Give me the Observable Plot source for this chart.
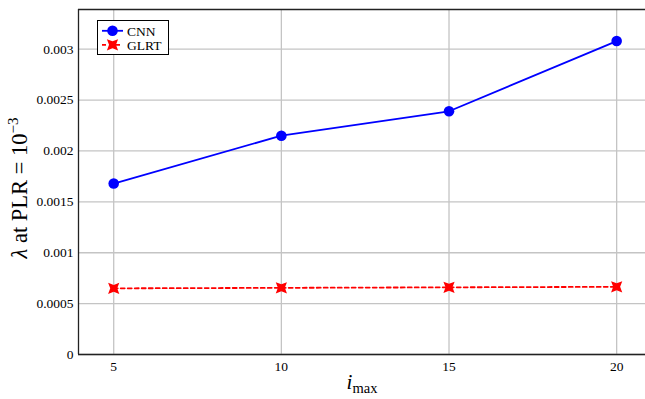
<!DOCTYPE html>
<html>
<head>
<meta charset="utf-8">
<script src="https://cdn.jsdelivr.net/npm/d3@7"></script>
<script src="https://cdn.jsdelivr.net/npm/@observablehq/plot@0.6"></script>
<style>
  html, body { margin: 0; padding: 0; background: #fff; }
  #chart svg { display: block; }
  #chart svg, #chart svg text, #chart svg tspan { font-family: "Liberation Serif", "DejaVu Serif", "Times New Roman", serif !important; }
</style>
</head>
<body>
<div id="chart"></div>
<script>
const xValues = [5, 10, 15, 20];
const cnnValues = [0.00168, 0.00215, 0.00239, 0.00308];
const glrtValues = [0.00065, 0.000655, 0.00066, 0.000665];
const xTicks = [5, 10, 15, 20];
const yTicks = [0, 0.0005, 0.001, 0.0015, 0.002, 0.0025, 0.003];
const yTickLabels = ["0", "0.0005", "0.001", "0.0015", "0.002", "0.0025", "0.003"];
const seriesNames = ["CNN", "GLRT"];

const cnn = xValues.map((x, i) => ({x, y: cnnValues[i]}));
const glrt = xValues.map((x, i) => ({x, y: glrtValues[i]}));

const xDomain = [3.95, 20.86];
const yDomain = [0, 0.00339];

// filled "X" marker (square with notched sides)
const thickX = {
  draw(context, size) {
    const h = Math.sqrt(size / Math.PI);
    const n = h * 0.38;
    context.moveTo(-h, -h);
    context.lineTo(0, -h + n);
    context.lineTo(h, -h);
    context.lineTo(h - n, 0);
    context.lineTo(h, h);
    context.lineTo(0, h - n);
    context.lineTo(-h, h);
    context.lineTo(-h + n, 0);
    context.closePath();
  }
};

const grid = {stroke: "#c4c4c4", strokeOpacity: 1, strokeWidth: 1.3};

const chart = Plot.plot({
  width: 645,
  height: 399,
  marginLeft: 78,
  marginTop: 9,
  marginBottom: 45,
  marginRight: 0,
  x: {domain: xDomain},
  y: {domain: yDomain},
  style: {fontSize: "13.5px", color: "#000", background: "#fff"},
  marks: [
    Plot.gridX(xTicks, grid),
    Plot.gridY(yTicks, grid),
    Plot.axisX(xTicks, {tickSize: 0, tickPadding: 7, label: null, fontSize: 13.5, tickFormat: d => String(d)}),
    Plot.axisY(yTicks, {tickSize: 0, tickPadding: 5, label: null, fontSize: 13.5,
      tickFormat: d => yTickLabels[yTicks.indexOf(d)]}),
    Plot.ruleY([yDomain[0]], {stroke: "#222", strokeWidth: 1.3}),
    Plot.ruleY([yDomain[1]], {stroke: "#222", strokeWidth: 1.3}),
    Plot.ruleX([xDomain[0]], {stroke: "#222", strokeWidth: 1.3}),
    Plot.line(glrt, {x: "x", y: "y", stroke: "#ff0000", strokeWidth: 1.8, strokeDasharray: "4,3"}),
    Plot.dot(glrt, {x: "x", y: "y", r: 5.6, fill: "#ff0000", stroke: "none", symbol: thickX}),
    Plot.line(cnn, {x: "x", y: "y", stroke: "#0000ff", strokeWidth: 1.8}),
    Plot.dot(cnn, {x: "x", y: "y", r: 5.3, fill: "#0000ff", stroke: "none"})
  ]
});

document.getElementById("chart").appendChild(chart);

const svg = d3.select(chart);

// Axis labels
const xl = svg.append("text")
  .attr("x", 362).attr("y", 389)
  .attr("text-anchor", "middle")
  .style("font-size", "21px").attr("fill", "#000");
xl.append("tspan").style("font-style", "italic").text("i");
xl.append("tspan").attr("dy", 4).style("font-size", "14.5px").text("max");

const yl = svg.append("text")
  .attr("transform", "translate(27,188) rotate(-90)")
  .attr("text-anchor", "middle")
  .style("font-size", "22.5px").attr("fill", "#000");
yl.append("tspan").style("font-style", "italic").text("λ");
yl.append("tspan").text(" at PLR = 10");
yl.append("tspan").attr("dy", -9).style("font-size", "15px").text("−3");

// Legend
const lg = svg.append("g");
lg.append("rect").attr("x", 97.5).attr("y", 20.5).attr("width", 71).attr("height", 34)
  .attr("fill", "#fff").attr("stroke", "#000").attr("stroke-width", 1);
const entries = [
  {name: seriesNames[0], color: "#0000ff", dash: null, sym: d3.symbolCircle, r: 5.3},
  {name: seriesNames[1], color: "#ff0000", dash: "4,3", sym: thickX, r: 5.6}
];
entries.forEach((e, i) => {
  const cy = 30.8 + i * 14;
  lg.append("line").attr("x1", 102).attr("x2", 123).attr("y1", cy).attr("y2", cy)
    .attr("stroke", e.color).attr("stroke-width", 1.8)
    .attr("stroke-dasharray", e.dash);
  lg.append("path").attr("transform", `translate(112.5,${cy})`)
    .attr("d", d3.symbol(e.sym, e.r * e.r * Math.PI)())
    .attr("fill", e.color);
  lg.append("text").attr("x", 127).attr("y", cy).attr("dy", "0.35em")
    .attr("text-anchor", "start")
    .style("font-size", "13.5px").attr("fill", "#000")
    .text(e.name);
});
</script>
</body>
</html>
